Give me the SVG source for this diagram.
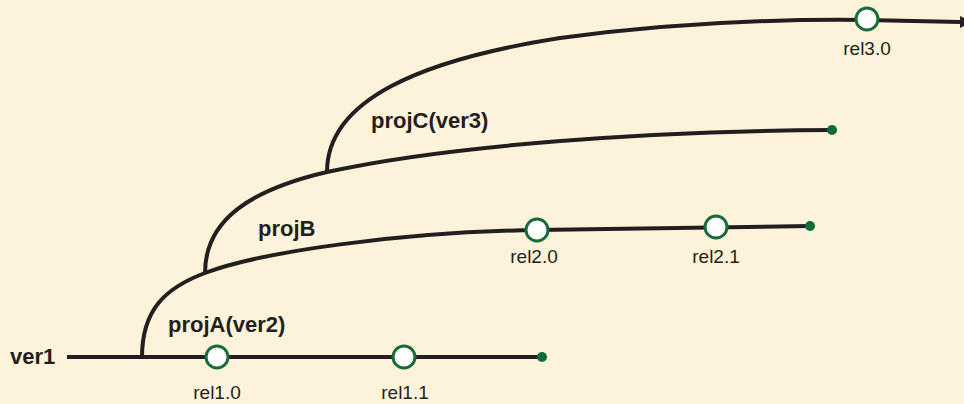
<svg xmlns="http://www.w3.org/2000/svg" width="964" height="404" viewBox="0 0 964 404">
<defs>
<style>
.ln{fill:none;stroke:#231f20;stroke-width:4;stroke-linecap:butt}
.rel{fill:#ffffff;stroke:#1a6b3a;stroke-width:3}
.end{fill:#0f6b3a}
.lb{font-family:"Liberation Sans",Arial,sans-serif;font-weight:bold;font-size:22px;fill:#231f20}
.rl{font-family:"Liberation Sans",Arial,sans-serif;font-size:19px;fill:#231f20;text-anchor:middle}
</style>
<marker id="arr" viewBox="0 0 10 10" refX="0" refY="5" markerWidth="3" markerHeight="3" orient="auto" markerUnits="strokeWidth">
<path d="M0,0 L10,5 L0,10 Z" fill="#231f20"/>
</marker>
</defs>
<rect width="964" height="404" fill="#fdf3da"/>
<g id="connectors">
<path class="ln" d="M67,357 L542,357"/>
<path class="ln" d="M142,357 C142,310 165,288 205,273 C260,252 400,232 537,230 L810,226"/>
<path class="ln" d="M205,273 C205,220 250,190 327,172 C450,145 650,131 832,130"/>
<path class="ln" d="M327,172 C327,100 420,60 560,38 C680,22 780,19 866,20 L960,22" marker-end="url(#arr)"/>
</g>
<g id="ver1"><text class="lb" x="10" y="364">ver1</text></g>
<g id="projA"><text class="lb" x="168" y="332">projA(ver2)</text></g>
<g id="projB"><text class="lb" x="258" y="236">projB</text></g>
<g id="projC"><text class="lb" x="371" y="128">projC(ver3)</text></g>
<g id="rel1.0"><circle class="rel" cx="217" cy="357" r="11"/><text class="rl" x="217" y="399">rel1.0</text></g>
<g id="rel1.1"><circle class="rel" cx="404" cy="357" r="11"/><text class="rl" x="405" y="399">rel1.1</text></g>
<g id="rel2.0"><circle class="rel" cx="537" cy="230" r="11"/><text class="rl" x="534" y="263">rel2.0</text></g>
<g id="rel2.1"><circle class="rel" cx="716" cy="227" r="11"/><text class="rl" x="716" y="263">rel2.1</text></g>
<g id="rel3.0"><circle class="rel" cx="867" cy="19" r="11"/><text class="rl" x="867" y="55">rel3.0</text></g>
<g id="end1"><circle class="end" cx="542" cy="357" r="5"/></g>
<g id="end2"><circle class="end" cx="810" cy="226" r="5"/></g>
<g id="end3"><circle class="end" cx="832" cy="130" r="5"/></g>
</svg>
